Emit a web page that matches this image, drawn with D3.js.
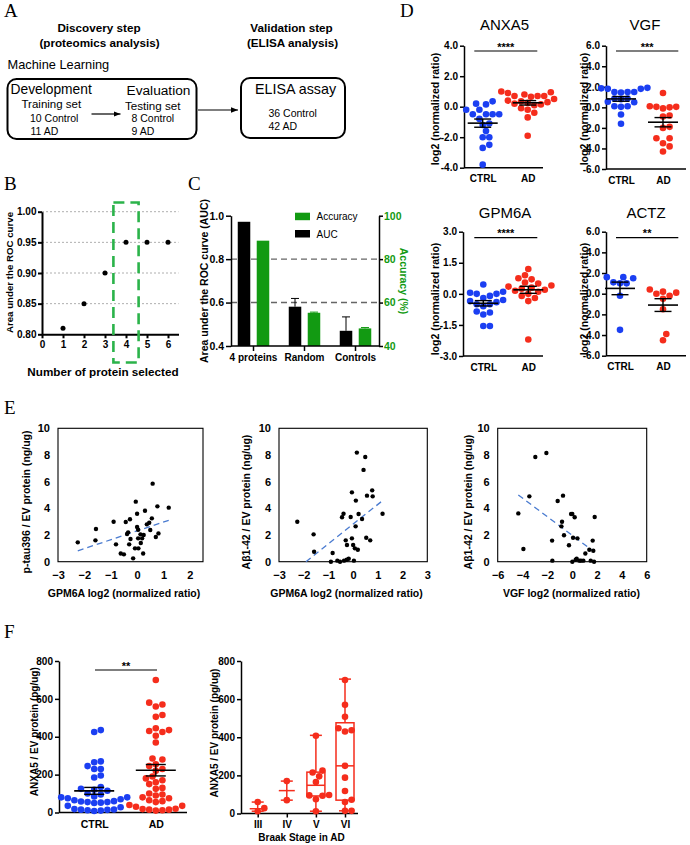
<!DOCTYPE html>
<html>
<head>
<meta charset="utf-8">
<script src="https://cdn.jsdelivr.net/npm/d3@7"></script>
<style>
  body { margin: 0; background: #fff; }
  svg { display: block; }
  text { font-family: "Liberation Sans", Arial, sans-serif; }
</style>
</head>
<body>
<svg id="fig" width="690" height="845"></svg>
<script>
// ---------- data ----------
const bProteins = [1, 2, 3, 4, 5, 6];
const bAuc = [0.81, 0.85, 0.90, 0.95, 0.95, 0.95];

const cGroups = ["4 proteins", "Random", "Controls"];
const cAuc = [0.972, 0.581, 0.470];
const cAucErr = [0, 0.038, 0.064];
const cAccuracy = [88.5, 55.3, 48.1];
const cAccuracyErr = [0, 0.3, 0.4];

const anxa5Ctrl = [0.35, 0.2, 0.15, -0.2, -0.2, -0.5, -0.5, -0.5, -0.5, -0.8, -1.1, -1.2, -1.6, -2.0, -2.0, -2.5, -2.7, -3.8];
const anxa5Ad = [1.0, 0.95, 0.9, 0.8, 0.7, 0.7, 0.7, 0.65, 0.5, 0.4, 0.35, 0.3, 0.25, 0.2, 0.15, 0.1, -0.1, -0.2, -0.4, -0.7, -1.9];
const vgfCtrl = [1.9, 1.85, 1.8, 1.8, 1.5, 1.5, 1.5, 1.45, 0.85, 0.85, 0.8, 0.55, 0.5, 0.1, 0.1, 0.05, -0.7, -1.6];
const vgfAd = [1.4, 0.1, 0.05, 0.05, 0.0, -0.1, -0.8, -0.9, -1.9, -2.0, -3.0, -3.0, -3.5, -3.8, -4.3];
const gpm6aCtrl = [0.45, 0.1, 0.05, 0.0, 0.0, -0.1, -0.2, -0.3, -0.35, -0.4, -0.5, -0.5, -0.6, -0.85, -0.9, -1.0, -1.55, -1.55];
const gpm6aAd = [1.2, 0.9, 0.75, 0.7, 0.55, 0.5, 0.4, 0.35, 0.3, 0.25, 0.2, 0.15, 0.1, 0.0, -0.1, -0.2, -0.35, -2.2];
const actzCtrl = [1.6, 1.6, 1.5, 1.1, 1.0, 1.0, -0.2, -3.5];
const actzAd = [0.4, 0.2, 0.1, 0.0, -0.2, -0.5, -1.5, -3.9, -4.5];

// panel E: [log2 ratio, ng/ug]
const tauVsGpm6a = [[-2.25, 1.45], [-1.58, 1.6], [-1.56, 2.45], [-0.89, 3.0], [-0.8, 1.3], [-0.62, 0.62], [-0.5, 0.55],
  [-0.43, 2.98], [-0.38, 2.08], [-0.3, 1.3], [-0.27, 3.18], [-0.25, 1.7], [-0.34, 2.2], [-0.15, 0.25], [-0.08, 1.0],
  [-0.05, 4.5], [0, 3.6], [0, 2.6], [0.04, 2.4], [0.05, 1.0], [0.04, 1.75], [0.13, 2.05], [0.14, 1.4], [0.19, 1.75],
  [0.23, 0.62], [0.25, 2.0], [0.3, 3.82], [0.37, 2.8], [0.46, 2.92], [0.5, 2.38], [0.56, 3.25], [0.59, 5.85],
  [0.71, 1.85], [0.77, 4.15], [0.81, 2.12], [1.2, 4.05]];
const tauVsGpm6aFit = [[-2.25, 0.82], [1.2, 3.1]];
const abVsGpm6a = [[-2.26, 3.0], [-1.6, 2.05], [-1.58, 0.75], [-0.9, 0], [-0.83, 0.65], [-0.64, 0.08], [-0.53, 0],
  [-0.37, 0.08], [-0.45, 3.33], [-0.39, 3.6], [-0.3, 1.6], [-0.25, 1.25], [-0.26, 0.15], [-0.18, 0.22], [-0.1, 3.35],
  [-0.05, 5.2], [-0.05, 1.75], [0.0, 1.25], [0.03, 0.08], [0.07, 1.0], [0.1, 2.65], [0.11, 4.58], [0.15, 8.18],
  [0.19, 0.9], [0.22, 3.58], [0.36, 3.2], [0.42, 6.88], [0.49, 7.85], [0.53, 1.8], [0.56, 4.95], [0.69, 1.6],
  [0.77, 5.35], [0.79, 4.9], [1.19, 3.6]];
const abVsGpm6aFit = [[-1.91, 0], [1.22, 4.62]];
const abVsVgf = [[-4.34, 3.62], [-3.93, 0.95], [-3.45, 4.9], [-2.97, 7.85], [-2.08, 8.15], [-1.62, 1.58], [-1.6, 0.08],
  [-1.17, 4.55], [-0.87, 2.65], [-0.82, 3.0], [-0.74, 4.95], [-0.66, 1.98], [-0.26, 1.23], [-0.09, 3.58], [0.01, 3.58],
  [0.01, 0], [0.07, 1.8], [0.2, 3.33], [0.28, 0.15], [0.36, 0.22], [0.42, 1.75], [0.58, 0.08], [0.71, 0.08],
  [0.9, 0.08], [1.06, 0.62], [1.38, 0.9], [1.49, 0.08], [1.65, 1.58], [1.7, 0.82], [1.76, 0], [1.81, 3.35]];
const abVsVgfFit = [[-4.34, 5.0], [1.76, 0.75]];

// panel F: pg/ug
const elisaCtrl = [435, 425, 270, 265, 245, 230, 230, 195, 185, 135, 125, 120, 115, 100, 95, 85, 80, 80, 75,
  70, 65, 60, 58, 55, 55, 52, 50, 35, 28, 18, 16, 15, 14, 12, 10, 8];
const elisaAd = [700, 580, 570, 560, 515, 505, 445, 435, 430, 425, 405, 370, 285, 280, 255, 245, 230, 220, 190, 180,
  170, 160, 150, 130, 125, 100, 95, 90, 80, 75, 65, 60, 55, 40, 30, 20, 18, 15, 15, 12, 10, 35];
const braakStages = ["III", "IV", "V", "VI"];
const braakValues = [[60, 28, 12], [170, 70], [408, 225, 215, 195, 165, 97, 95, 93, 75, 12],
  [700, 570, 507, 447, 437, 430, 250, 188, 118, 72, 60, 14, 14]];
const braakMin = [12, 70, 12, 14];
const braakQ1 = [25, 120, 92, 70];
const braakMedian = [25, 120, 148, 250];
const braakQ3 = [25, 120, 217, 476];
const braakMax = [60, 170, 410, 705];

// ---------- setup ----------
const svg = d3.select("#fig");
const BLUE = "#1b3ff2", RED = "#f52d1c", GREEN = "#129a12";

function letter(t, x, y) {
  svg.append("text").attr("x", x).attr("y", y).text(t)
    .style("font-family", '"Liberation Serif", "Times New Roman", serif').style("font-size", "19px");
}
function txt(t, x, y, size, opts = {}) {
  return svg.append("text").attr("x", x).attr("y", y).text(t)
    .attr("text-anchor", opts.anchor || "start")
    .style("font-size", size + "px")
    .style("font-weight", opts.bold ? "bold" : "normal")
    .attr("fill", opts.fill || "#000");
}
function vtitle(t, cx, cy, size, rot = -90, fill = "#000") {
  svg.append("text").attr("transform", `translate(${cx},${cy}) rotate(${rot})`)
    .attr("dy", "0.35em").attr("text-anchor", "middle").text(t)
    .style("font-size", size + "px").style("font-weight", "bold").attr("fill", fill);
}
function styleAxis(g, size, width, color = "#000") {
  g.selectAll("path,line").attr("stroke", "#000").attr("stroke-width", width);
  g.selectAll("text").style("font-size", size + "px").style("font-weight", "bold")
    .attr("fill", color).style("font-family", '"Liberation Sans", Arial, sans-serif');
}

// ---------- panel A ----------
letter("A", 4, 17);
letter("D", 400, 17);
svg.append("defs").append("marker").attr("id", "arr").attr("viewBox", "0 0 10 10")
  .attr("refX", 10).attr("refY", 5).attr("markerWidth", 7).attr("markerHeight", 7).attr("orient", "auto")
  .attr("markerUnits", "userSpaceOnUse")
  .append("path").attr("d", "M0,1 L10,5 L0,9 Z").attr("fill", "#000");

txt("Discovery step", 99, 31.5, 11.7, { bold: true, anchor: "middle" });
txt("(proteomics analysis)", 99.5, 46.5, 11.7, { bold: true, anchor: "middle" });
txt("Validation step", 291.5, 31.5, 11.7, { bold: true, anchor: "middle" });
txt("(ELISA analysis)", 292.5, 46.5, 11.7, { bold: true, anchor: "middle" });
txt("Machine Learning", 7.5, 68.5, 12.8);

svg.append("rect").attr("x", 7.5).attr("y", 79).attr("width", 189).attr("height", 60).attr("rx", 9)
  .attr("fill", "none").attr("stroke", "#000").attr("stroke-width", 2);
svg.append("rect").attr("x", 241).attr("y", 78).attr("width", 104).attr("height", 60).attr("rx", 9)
  .attr("fill", "none").attr("stroke", "#000").attr("stroke-width", 2);

txt("Development", 10.5, 94, 13.8);
txt("Training set", 21.5, 108, 11.5);
txt("10 Control", 30, 122, 10.5);
txt("11 AD", 30.5, 135, 10.5);
txt("Evaluation", 126.5, 94.5, 13.7);
txt("Testing set", 125, 110, 11.6);
txt("8 Control", 131.5, 122, 10.5);
txt("9 AD", 131.5, 135, 10.5);
txt("ELISA assay", 255, 94, 14.3);
txt("36 Control", 268.5, 117, 10.5);
txt("42 AD", 268.5, 129.5, 10.5);

svg.append("line").attr("x1", 91.5).attr("y1", 114).attr("x2", 120.5).attr("y2", 114)
  .attr("stroke", "#000").attr("stroke-width", 1.2).attr("marker-end", "url(#arr)");
svg.append("line").attr("x1", 198).attr("y1", 110).attr("x2", 238).attr("y2", 110)
  .attr("stroke", "#000").attr("stroke-width", 1.2).attr("marker-end", "url(#arr)");

// ---------- panel B ----------
letter("B", 4, 190);
{
  const x = d3.scaleLinear().domain([0, 6.5]).range([42, 178.5]);
  const y = d3.scaleLinear().domain([0.8, 1.0]).range([334.3, 211.7]);
  svg.append("g").selectAll("line").data([0.85, 0.9, 0.95, 1.0]).join("line")
    .attr("x1", x(0)).attr("x2", x(6.5)).attr("y1", d => y(d)).attr("y2", d => y(d))
    .attr("stroke", "#9a9a9a").attr("stroke-width", 0.8).attr("stroke-dasharray", "2,2");
  const ay = svg.append("g").attr("transform", `translate(${x(0)},0)`)
    .call(d3.axisLeft(y).tickValues([0.8, 0.85, 0.9, 0.95, 1.0]).tickFormat(d3.format(".2f")).tickSize(4).tickPadding(1.5).tickSizeOuter(0));
  styleAxis(ay, 10, 2);
  const ax = svg.append("g").attr("transform", `translate(0,${y(0.8)})`)
    .call(d3.axisBottom(x).tickValues(d3.range(0, 7)).tickFormat(d3.format("d")).tickSize(4).tickPadding(3).tickSizeOuter(0));
  styleAxis(ax, 10, 2);
  svg.append("rect").attr("x", x(3.4)).attr("y", 202.5).attr("width", x(4.6) - x(3.4)).attr("height", 160)
    .attr("fill", "none").attr("stroke", "#2bb34a").attr("stroke-width", 2.6).attr("stroke-dasharray", "11,6");
  svg.append("g").selectAll("circle").data(bProteins).join("circle")
    .attr("cx", d => x(d)).attr("cy", (d, i) => y(bAuc[i])).attr("r", 2.5).attr("fill", "#000");
  vtitle("Area under the ROC curve", 10, 272.5, 9.7);
  txt("Number of protein selected", 103, 376, 11.7, { bold: true, anchor: "middle" });
}

// ---------- panel C ----------
letter("C", 188, 190);
{
  const x = d3.scaleBand().domain(cGroups).range([228, 381]);
  const inner = d3.scaleBand().domain(["auc", "acc"]).range([-15.75, 15.75]).paddingInner(0.34);
  const y = d3.scaleLinear().domain([0.4, 1.0]).range([346, 215.7]);
  const y2 = d3.scaleLinear().domain([40, 100]).range([346, 215.7]);
  const cx = g => x(g) + x.bandwidth() / 2;
  svg.append("g").selectAll("line").data([0.6, 0.8]).join("line")
    .attr("x1", 231).attr("x2", 379).attr("y1", d => y(d)).attr("y2", d => y(d))
    .attr("stroke", "#666").attr("stroke-width", 1.4).attr("stroke-dasharray", "6,4");
  const bars = svg.append("g");
  bars.selectAll("rect.auc").data(cGroups).join("rect").attr("class", "auc")
    .attr("x", d => cx(d) + inner("auc")).attr("width", inner.bandwidth())
    .attr("y", (d, i) => y(cAuc[i])).attr("height", (d, i) => y(0.4) - y(cAuc[i])).attr("fill", "#000");
  bars.selectAll("rect.acc").data(cGroups).join("rect").attr("class", "acc")
    .attr("x", d => cx(d) + inner("acc")).attr("width", inner.bandwidth())
    .attr("y", (d, i) => y2(cAccuracy[i])).attr("height", (d, i) => y2(40) - y2(cAccuracy[i])).attr("fill", GREEN);
  // upper error bars
  cGroups.forEach((g, i) => {
    const errs = [
      { xc: cx(g) + inner("auc") + inner.bandwidth() / 2, y0: y(cAuc[i]), y1: y(cAuc[i] + cAucErr[i]), c: "#000", e: cAucErr[i] },
      { xc: cx(g) + inner("acc") + inner.bandwidth() / 2, y0: y2(cAccuracy[i]), y1: y2(cAccuracy[i] + cAccuracyErr[i]), c: GREEN, e: cAccuracyErr[i] }
    ];
    errs.filter(d => d.e > 0).forEach(d => {
      bars.append("line").attr("x1", d.xc).attr("x2", d.xc).attr("y1", d.y0).attr("y2", d.y1).attr("stroke", d.c).attr("stroke-width", 1);
      bars.append("line").attr("x1", d.xc - 4).attr("x2", d.xc + 4).attr("y1", d.y1).attr("y2", d.y1).attr("stroke", d.c).attr("stroke-width", 1);
    });
  });
  const ay = svg.append("g").attr("transform", "translate(231,0)")
    .call(d3.axisLeft(y).tickValues([0.4, 0.6, 0.8, 1.0]).tickFormat(d3.format(".1f")).tickSize(5).tickPadding(2).tickSizeOuter(0));
  styleAxis(ay, 10.5, 1.5);
  const ay2 = svg.append("g").attr("transform", "translate(379,0)")
    .call(d3.axisRight(y2).tickValues([40, 60, 80, 100]).tickSize(4).tickPadding(1).tickSizeOuter(0));
  styleAxis(ay2, 10.5, 1.5, GREEN);
  const ax = svg.append("g").attr("transform", `translate(0,${y(0.4)})`)
    .call(d3.axisBottom(x).tickSize(5).tickPadding(3).tickSizeOuter(0));
  ax.select(".domain").remove();
  styleAxis(ax, 10, 1.5);
  svg.append("line").attr("x1", 231).attr("x2", 379).attr("y1", y(0.4)).attr("y2", y(0.4)).attr("stroke", "#000").attr("stroke-width", 1.5);
  // legend
  svg.append("rect").attr("x", 295).attr("y", 212.7).attr("width", 15).attr("height", 7.5).attr("fill", GREEN);
  svg.append("rect").attr("x", 295).attr("y", 230).attr("width", 15).attr("height", 7.5).attr("fill", "#000");
  txt("Accuracy", 316.5, 220, 10);
  txt("AUC", 316.5, 237.5, 10);
  vtitle("Area under the ROC curve (AUC)", 204, 281, 10.5);
  vtitle("Accuracy (%)", 403.5, 281, 10.5, 90, GREEN);
}

// ---------- dot plots (panel D and F) ----------
function swarm(values, yScale, cx, r) {
  const placed = [];
  values.slice().sort((a, b) => a - b).forEach(v => {
    const cy = yScale(v);
    for (let k = 0; k < 80; k++) {
      const off = (k % 2 ? 1 : -1) * Math.ceil(k / 2) * r;
      const px = cx + off;
      if (placed.every(p => (p.x - px) ** 2 + (p.y - cy) ** 2 >= (2 * r * 0.96) ** 2)) {
        placed.push({ x: px, y: cy, v });
        break;
      }
    }
  });
  return placed;
}

function dotPanel(cfg) {
  const y = d3.scaleLinear().domain(cfg.domain).range([cfg.yBot, cfg.yTop]);
  const x = d3.scalePoint().domain(["CTRL", "AD"]).range(cfg.centers);
  const g = svg.append("g");
  const ay = g.append("g").attr("transform", `translate(${cfg.axisX},0)`)
    .call(d3.axisLeft(y).tickValues(cfg.ticks).tickFormat(cfg.fmt).tickSize(4).tickPadding(2).tickSizeOuter(0));
  styleAxis(ay, cfg.tickFont, 1.5);
  const ax = g.append("g").attr("transform", `translate(0,${cfg.yBot})`)
    .call(d3.axisBottom(x).tickSize(0).tickPadding(cfg.labelPad));
  ax.select(".domain").remove();
  styleAxis(ax, cfg.labelFont, 1.5);
  g.append("line").attr("x1", cfg.axisX).attr("x2", cfg.xEnd).attr("y1", cfg.yBot).attr("y2", cfg.yBot)
    .attr("stroke", "#000").attr("stroke-width", 1.5);
  [["CTRL", cfg.ctrl, BLUE], ["AD", cfg.ad, RED]].forEach(([name, vals, col]) => {
    const pts = swarm(vals, y, x(name), cfg.r);
    g.append("g").selectAll("circle").data(pts).join("circle")
      .attr("cx", d => d.x).attr("cy", d => d.y).attr("r", cfg.r).attr("fill", col);
    const m = d3.mean(vals), se = d3.deviation(vals) / Math.sqrt(vals.length);
    const c = x(name);
    g.append("line").attr("x1", c - cfg.meanW).attr("x2", c + cfg.meanW).attr("y1", y(m)).attr("y2", y(m))
      .attr("stroke", "#000").attr("stroke-width", 1.6);
    g.append("line").attr("x1", c).attr("x2", c).attr("y1", y(m - se)).attr("y2", y(m + se))
      .attr("stroke", "#000").attr("stroke-width", 1.4);
    [m - se, m + se].forEach(v => g.append("line").attr("x1", c - cfg.capW).attr("x2", c + cfg.capW)
      .attr("y1", y(v)).attr("y2", y(v)).attr("stroke", "#000").attr("stroke-width", 1.4));
  });
  g.append("line").attr("x1", cfg.sig[0]).attr("x2", cfg.sig[1]).attr("y1", cfg.sigY).attr("y2", cfg.sigY)
    .attr("stroke", "#000").attr("stroke-width", 1.2);
  txt(cfg.stars, (cfg.sig[0] + cfg.sig[1]) / 2, cfg.sigY - 0.5, 11, { bold: true, anchor: "middle" });
  if (cfg.title) txt(cfg.title, cfg.titleX, cfg.titleY, 15, { anchor: "middle" });
  vtitle(cfg.ytitle, cfg.ytX, cfg.ytY, cfg.ytFont);
}

const f1 = d => d.toFixed(1);
const dBase = { fmt: f1, tickFont: 10, labelFont: 10, labelPad: 7.5, r: 3.3, meanW: 15, capW: 8.5,
  ytitle: "log2 (normalized ratio)", ytFont: 10.5 };
dotPanel({ ...dBase, title: "ANXA5", titleX: 504.5, titleY: 30, axisX: 464, yTop: 45.7, yBot: 167.7,
  domain: [-4, 4], ticks: [-4, -2, 0, 2, 4], centers: [482.7, 527.7], xEnd: 543,
  ctrl: anxa5Ctrl, ad: anxa5Ad, sig: [474.3, 537.3], sigY: 51, stars: "****", ytX: 435.5, ytY: 109 });
dotPanel({ ...dBase, title: "VGF", titleX: 645, titleY: 30, axisX: 606, yTop: 45.7, yBot: 169,
  domain: [-6, 6], ticks: [-6, -4, -2, 0, 2, 4, 6], centers: [621, 663], xEnd: 686,
  ctrl: vgfCtrl, ad: vgfAd, sig: [616, 678.3], sigY: 51, stars: "***", ytX: 584, ytY: 109 });
dotPanel({ ...dBase, title: "GPM6A", titleX: 505, titleY: 218.3, axisX: 463, yTop: 231.7, yBot: 356,
  domain: [-3, 3], ticks: [-3, -1.5, 0, 1.5, 3], centers: [483.3, 528.3], xEnd: 543,
  ctrl: gpm6aCtrl, ad: gpm6aAd, sig: [474.3, 537.3], sigY: 237.7, stars: "****", ytX: 435.5, ytY: 299 });
dotPanel({ ...dBase, title: "ACTZ", titleX: 646, titleY: 218.3, axisX: 606, yTop: 231.7, yBot: 355.7,
  domain: [-6, 6], ticks: [-6, -4, -2, 0, 2, 4, 6], centers: [620, 663], xEnd: 686,
  ctrl: actzCtrl, ad: actzAd, sig: [616, 678.3], sigY: 237.7, stars: "**", ytX: 584, ytY: 299 });

// ---------- panel E ----------
letter("E", 4, 414);
function scatterPanel(cfg) {
  const x = d3.scaleLinear().domain(cfg.xDomain).range([cfg.x0, cfg.x1]);
  const y = d3.scaleLinear().domain([0, 10]).range([561.7, 428.3]);
  const g = svg.append("g");
  g.append("rect").attr("x", cfg.x0).attr("y", 428.3).attr("width", cfg.x1 - cfg.x0).attr("height", 561.7 - 428.3)
    .attr("fill", "none").attr("stroke", "#000").attr("stroke-width", 1.1);
  const ax = g.append("g").attr("transform", "translate(0,561.7)")
    .call(d3.axisBottom(x).tickValues(cfg.xTicks).tickFormat(d3.format("d")).tickSize(0).tickPadding(9.5));
  ax.select(".domain").remove();
  styleAxis(ax, 11, 1);
  const ay = g.append("g").attr("transform", `translate(${cfg.x0},0)`)
    .call(d3.axisLeft(y).tickValues(d3.range(0, 11, 2)).tickSize(0).tickPadding(8));
  ay.select(".domain").remove();
  styleAxis(ay, 11, 1);
  g.append("line").attr("x1", x(cfg.fit[0][0])).attr("y1", y(cfg.fit[0][1]))
    .attr("x2", x(cfg.fit[1][0])).attr("y2", y(cfg.fit[1][1]))
    .attr("stroke", "#4a7bd0").attr("stroke-width", 1.3).attr("stroke-dasharray", "6,4");
  g.append("g").selectAll("circle").data(cfg.points).join("circle")
    .attr("cx", d => x(d[0])).attr("cy", d => y(d[1])).attr("r", 2.2).attr("fill", "#000");
  vtitle(cfg.ytitle, cfg.ytX, 502, 10.5);
  txt(cfg.xtitle, cfg.xtX, 596.5, 10.5, { bold: true, anchor: "middle" });
}
scatterPanel({ x0: 58, x1: 203, xDomain: [-3, 2.5], xTicks: [-3, -2, -1, 0, 1, 2], points: tauVsGpm6a,
  fit: tauVsGpm6aFit, ytitle: "p-tau396 / EV protein (ng/ug)", ytX: 26, xtitle: "GPM6A log2 (normalized ratio)", xtX: 124 });
scatterPanel({ x0: 279, x1: 427.3, xDomain: [-3, 3], xTicks: [-3, -2, -1, 0, 1, 2, 3], points: abVsGpm6a,
  fit: abVsGpm6aFit, ytitle: "Aβ1-42 / EV protein (ng/ug)", ytX: 246, xtitle: "GPM6A log2 (normalized ratio)", xtX: 346.5 });
scatterPanel({ x0: 497.7, x1: 646.7, xDomain: [-6, 6], xTicks: [-6, -4, -2, 0, 2, 4, 6], points: abVsVgf,
  fit: abVsVgfFit, ytitle: "Aβ1-42 / EV protein (ng/ug)", ytX: 468.5, xtitle: "VGF log2 (normalized ratio)", xtX: 571.5 });

// ---------- panel F ----------
letter("F", 4, 637.5);
dotPanel({ fmt: d3.format("d"), tickFont: 10, labelFont: 10.5, labelPad: 8.5, r: 3.3, meanW: 20, capW: 10,
  axisX: 59, yTop: 661, yBot: 812.5, domain: [0, 800], ticks: [0, 200, 400, 600, 800],
  centers: [94.2, 155.8], xEnd: 187, ctrl: elisaCtrl, ad: elisaAd, sig: [95, 157], sigY: 670, stars: "**",
  ytitle: "ANXA5 / EV protein (pg/ug)", ytX: 34.7, ytY: 731.7, ytFont: 10 });

{
  const y = d3.scaleLinear().domain([0, 800]).range([813.5, 661]);
  const x = d3.scalePoint().domain(braakStages).range([257.7, 345]);
  const ay = svg.append("g").attr("transform", "translate(241,0)")
    .call(d3.axisLeft(y).tickValues([0, 200, 400, 600, 800]).tickSize(4).tickPadding(2).tickSizeOuter(0));
  styleAxis(ay, 10, 1.5);
  const ax = svg.append("g").attr("transform", `translate(0,${y(0)})`)
    .call(d3.axisBottom(x).tickSize(4).tickPadding(3).tickSizeOuter(0));
  ax.select(".domain").remove();
  styleAxis(ax, 10, 1.5);
  svg.append("line").attr("x1", 241).attr("x2", 358).attr("y1", y(0)).attr("y2", y(0)).attr("stroke", "#000").attr("stroke-width", 1.5);
  const g = svg.append("g").attr("stroke", RED).attr("stroke-width", 1.5).attr("fill", "none");
  braakStages.forEach((s, i) => {
    const c = x(s), bw = 9, cap = 6;
    const hasBox = braakQ3[i] > braakQ1[i];
    g.append("line").attr("x1", c).attr("x2", c).attr("y1", y(braakMax[i])).attr("y2", y(braakMin[i]));
    [braakMin[i], braakMax[i]].forEach(v => g.append("line").attr("x1", c - cap).attr("x2", c + cap).attr("y1", y(v)).attr("y2", y(v)));
    if (hasBox) {
      g.append("rect").attr("x", c - bw).attr("width", 2 * bw).attr("y", y(braakQ3[i]))
        .attr("height", y(braakQ1[i]) - y(braakQ3[i])).attr("fill", "#fff");
    }
    const mw = hasBox ? bw : 8;
    g.append("line").attr("x1", c - mw).attr("x2", c + mw).attr("y1", y(braakMedian[i])).attr("y2", y(braakMedian[i]));
    const pts = swarm(braakValues[i], y, c, 3.3);
    svg.append("g").selectAll("circle").data(pts).join("circle")
      .attr("cx", d => d.x).attr("cy", d => d.y).attr("r", 3.3).attr("fill", RED);
  });
  vtitle("ANXA5 / EV protein (pg/ug)", 214.5, 733, 10);
  txt("Braak Stage in AD", 301.5, 841, 10, { bold: true, anchor: "middle" });
}
</script>
</body>
</html>
